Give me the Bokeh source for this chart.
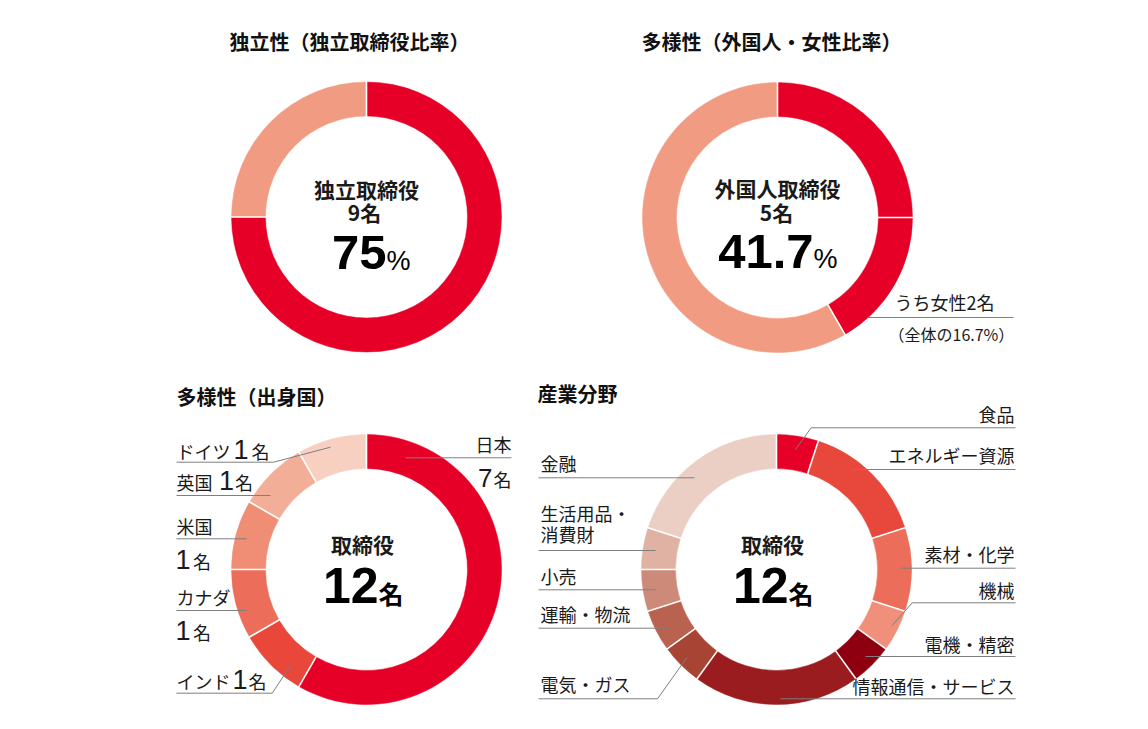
import math
from bokeh.plotting import figure
from bokeh.models import Range1d, ColumnDataSource
from bokeh.core.properties import value
from bokeh.embed import file_html
from bokeh.resources import INLINE

# ---------------- data ----------------
independence_labels = ["独立取締役", "社内取締役"]
independence_counts = [9, 3]

diversity_labels = ["外国人取締役", "うち女性", "日本人取締役"]
diversity_counts = [3, 2, 7]

country_labels = ["日本", "インド", "カナダ", "米国", "英国", "ドイツ"]
country_counts = [7, 1, 1, 1, 1, 1]

industry_labels = ["食品", "エネルギー資源", "素材・化学", "機械", "電機・精密",
                   "情報通信・サービス", "電気・ガス", "運輸・物流", "小売",
                   "生活用品・消費財", "金融"]
industry_counts = [1, 3, 2, 1, 1, 4, 1, 1, 1, 1, 4]

titles = ["独立性（独立取締役比率）", "多様性（外国人・女性比率）", "多様性（出身国）", "産業分野"]

# ---------------- styles ----------------
RED = "#E60027"
SALMON = "#F19C82"
independence_colors = [RED, SALMON]
diversity_colors = [RED, RED, SALMON]
country_colors = [RED, "#E8473A", "#EC6D59", "#EF8E75", "#F3AE98", "#F8D0C2"]
industry_colors = [RED, "#E8473B", "#EC6D59", "#F0907A", "#8E000F", "#9B1C1F",
                   "#A84434", "#BA6250", "#CD8A78", "#DFB2A3", "#EBCFC4"]

CJK = "Noto Sans CJK JP"
LAT = "Liberation Sans"
INK = "#1a1a1a"
GRAY = "#7f7f7f"
R_IN, R_OUT = 101, 135
K_SHIFT = 0.36   # empirical baseline correction (fraction of font size)

W, H = 1132, 713
p = figure(width=W, height=H, output_backend="svg", toolbar_location=None,
           x_range=Range1d(0, W), y_range=Range1d(-H, 0),
           min_border=0, outline_line_color=None)
p.axis.visible = False
p.grid.visible = False
p.background_fill_color = "white"
p.border_fill_color = "white"


def donut(cx, cy, counts, colors):
    total = float(sum(counts))
    starts, ends = [], []
    acc = 0.0
    for c in counts:
        starts.append(acc / total * 360.0)
        acc += c
        ends.append(acc / total * 360.0)
    src = ColumnDataSource(dict(
        start=[math.radians(90 - s) for s in starts],
        end=[math.radians(90 - e) for e in ends],
        color=colors))
    p.annular_wedge(x=cx, y=-cy, inner_radius=R_IN, outer_radius=R_OUT,
                    start_angle="start", end_angle="end", direction="clock",
                    fill_color="color", line_color="color", line_width=0.5,
                    source=src)
    # white separators
    x0, y0, x1, y1 = [], [], [], []
    for s in starts:
        a = math.radians(90 - s)
        x0.append(cx + (R_IN - 1) * math.cos(a))
        y0.append(-cy + (R_IN - 1) * math.sin(a))
        x1.append(cx + (R_OUT + 1) * math.cos(a))
        y1.append(-cy + (R_OUT + 1) * math.sin(a))
    p.segment(x0=x0, y0=y0, x1=x1, y1=y1, line_color="white", line_width=1.6)


def txt(x, sy, s, size, font=CJK, bold=False, align="left", color=INK):
    sy = sy - K_SHIFT * size
    p.text(x=[x], y=[-sy], text=[s], text_font=value(font),
           text_font_size=f"{size}px",
           text_font_style="bold" if bold else "normal",
           text_align=align, text_baseline="alphabetic", text_color=color)


def leader(points):
    p.line(x=[pt[0] for pt in points], y=[-pt[1] for pt in points],
           line_color=GRAY, line_width=1)


# ---------------- donuts ----------------
donut(366, 216.5, independence_counts, independence_colors)
donut(777, 217, diversity_counts, diversity_colors)
donut(366, 569, country_counts, country_colors)
donut(776, 569, industry_counts, industry_colors)

# ---------------- titles ----------------
txt(229, 48, titles[0], 20, bold=True, color="#111111")
txt(641, 48, titles[1], 20, bold=True, color="#111111")
txt(176, 403, titles[2], 20, bold=True, color="#111111")
txt(537, 400, titles[3], 20, bold=True, color="#111111")

# ---------------- centre texts ----------------
total = sum(independence_counts)
ind_pct = independence_counts[0] / total * 100
txt(366, 196.5, independence_labels[0], 21, bold=True, align="center")
txt(364, 219.5, f"{independence_counts[0]}名", 21, bold=True, align="center")
txt(386, 270, f"{ind_pct:.0f}", 49, font=LAT, bold=True, align="right", color="#000000")
txt(386, 270, "%", 27, font=LAT, color="#000000")

foreign = diversity_counts[0] + diversity_counts[1]
div_pct = foreign / sum(diversity_counts) * 100
fem_pct = diversity_counts[1] / sum(diversity_counts) * 100
txt(777, 195, "外国人取締役", 21, bold=True, align="center")
txt(776, 219, f"{foreign}名", 21, bold=True, align="center")
txt(813, 268.3, f"{div_pct:.1f}", 49, font=LAT, bold=True, align="right", color="#000000")
txt(813, 268.3, "%", 27, font=LAT, color="#000000")

n_dir = sum(country_counts)
for cx in (362, 772):
    txt(cx, 551.5, "取締役", 21, bold=True, align="center")
    txt(cx + 16, 603.3, f"{n_dir}", 50, font=LAT, bold=True, align="right", color="#000000")
    txt(cx + 16, 601.5, "名", 25, bold=True, color="#000000")

# ---------------- chart 2 side label ----------------
txt(894, 308, f"うち女性{diversity_counts[1]}名", 18)
txt(888, 339, f"（全体の{fem_pct:.1f}%）", 16)
leader([(867, 317), (1013, 317)])

# ---------------- chart 3 labels ----------------
txt(511, 450, country_labels[0], 18, align="right")
txt(492, 486.7, f"{country_counts[0]}", 26, font=LAT, align="right")
txt(511, 485, "名", 18, align="right")
leader([(405, 457.3), (511, 457.3)])

# ドイツ
txt(176, 456.5, country_labels[5], 18)
txt(233, 458.3, f"{country_counts[5]}", 27, font=LAT)
txt(251, 456.5, "名", 18)
leader([(330, 446.7), (273, 461.7), (176, 461.7)])
# 英国
txt(176, 488, country_labels[4], 18)
txt(218.5, 490, f"{country_counts[4]}", 27, font=LAT)
txt(234.5, 488, "名", 18)
leader([(270, 495), (176, 495)])
# 米国
txt(176, 531.5, country_labels[3], 18)
txt(175, 568.3, f"{country_counts[3]}", 27, font=LAT)
txt(192.5, 566.5, "名", 18)
leader([(246, 538.3), (176, 538.3)])
# カナダ
txt(176, 603, country_labels[2], 18)
txt(175, 640, f"{country_counts[2]}", 27, font=LAT)
txt(192.5, 638, "名", 18)
leader([(246, 610), (176, 610)])
# インド
txt(176, 686.5, country_labels[1], 18)
txt(232, 688.3, f"{country_counts[1]}", 27, font=LAT)
txt(248, 686.5, "名", 18)
leader([(290, 665), (271.7, 692.7), (176, 692.7)])

# ---------------- chart 4 labels ----------------
RX = 1014
txt(RX, 420, industry_labels[0], 18, align="right")
leader([(795, 449), (810.7, 427.3), (1015, 427.3)])
txt(RX, 461, industry_labels[1], 18, align="right")
leader([(851.7, 469), (1015, 469)])
txt(RX, 560, industry_labels[2], 18, align="right")
leader([(900, 567.7), (1015, 567.7)])
txt(RX, 596, industry_labels[3], 18, align="right")
leader([(891.7, 625), (911.7, 602.3), (1015, 602.3)])
txt(RX, 650, industry_labels[4], 18, align="right")
leader([(865, 656), (1015, 656)])
txt(RX, 691.5, industry_labels[5], 18, align="right")
leader([(780, 698.3), (1015, 698.3)])

LX = 540
txt(LX, 469, industry_labels[10], 18)
leader([(538, 477.3), (694, 477.3)])
txt(LX, 519, industry_labels[9][:5], 18)
txt(LX, 540, industry_labels[9][5:], 18)
leader([(538, 550), (655, 550)])
txt(LX, 581.5, industry_labels[8], 18)
leader([(538, 589.3), (655, 589.3)])
txt(LX, 620, industry_labels[7], 18)
leader([(538, 627.7), (668, 627.7)])
txt(LX, 690, industry_labels[6], 18)
leader([(538, 698.3), (657, 698.3), (686.7, 656.7)])

open("out.html", "w").write(file_html(p, INLINE))
